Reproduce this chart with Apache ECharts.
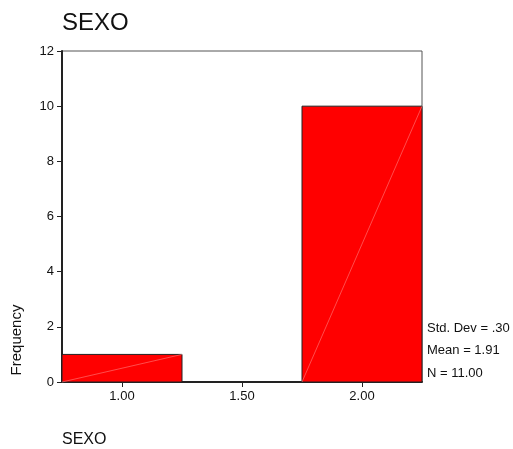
<!DOCTYPE html>
<html><head><meta charset="utf-8">
<script src="https://cdn.jsdelivr.net/npm/echarts@6/dist/echarts.min.js"></script>
<style>html,body{margin:0;padding:0;background:#fff}#c{width:513px;height:449px}</style>
</head><body><div id="c"></div>
<script>
const binStarts = [0.75, 1.75];
const binEnds = [1.25, 2.25];
const counts = [1, 10];
const xTicks = [1.0, 1.5, 2.0];
const statsLines = ['Std. Dev = .30', 'Mean = 1.91', 'N = 11.00'];
const titleText = 'SEXO';

const data = binStarts.map((s, i) => [s, binEnds[i], counts[i]]);
const chart = echarts.init(document.getElementById('c'));
const font = 'Liberation Sans, Arial, sans-serif';
chart.setOption({
  animation: false,
  grid: {left: 62, right: 91, top: 51, bottom: 67},
  xAxis: {
    type: 'value', min: 0.75, max: 2.25,
    splitLine: {show: false},
    axisLine: {show: true, lineStyle: {color: '#222', width: 2}},
    axisTick: {show: true, customValues: xTicks, length: 5, lineStyle: {color: '#222'}},
    axisLabel: {customValues: xTicks, formatter: v => v.toFixed(2), color: '#111', fontFamily: font, fontSize: 13, margin: 8}
  },
  yAxis: {
    type: 'value', min: 0, max: 12, interval: 2,
    splitLine: {show: false},
    axisLine: {show: true, lineStyle: {color: '#222', width: 2}},
    axisTick: {show: true, length: 5, lineStyle: {color: '#222'}},
    axisLabel: {color: '#111', fontFamily: font, fontSize: 13, margin: 8}
  },
  series: [{
    type: 'custom',
    data: data,
    encode: {x: [0, 1], y: 2},
    renderItem: function (params, api) {
      const p0 = api.coord([api.value(0), 0]);
      const p1 = api.coord([api.value(1), api.value(2)]);
      return {
        type: 'group',
        children: [
          {type: 'rect', shape: {x: p0[0], y: p1[1], width: p1[0] - p0[0], height: p0[1] - p1[1]},
           style: {fill: '#ff0000', stroke: '#222', lineWidth: 1}},
          {type: 'line', shape: {x1: p0[0], y1: p0[1], x2: p1[0], y2: p1[1]},
           style: {stroke: '#ff8080', lineWidth: 0.6}}
        ]
      };
    }
  }],
  graphic: [
    {type: 'rect', shape: {x: 62, y: 51, width: 360, height: 331}, style: {fill: 'none', stroke: '#555', lineWidth: 1}, z: -1},
    {type: 'text', left: 62, top: 11, style: {text: titleText, font: '24px ' + font, fill: '#111'}},
    {type: 'text', x: 17, y: 340, rotation: Math.PI / 2, style: {text: 'Frequency', font: '15px ' + font, fill: '#111', align: 'center', verticalAlign: 'middle'}},
    {type: 'text', left: 62, top: 432, style: {text: 'SEXO', font: '16px ' + font, fill: '#111'}},
    {type: 'text', left: 427, top: 317, style: {text: statsLines.join('\n'), font: '13px ' + font, fill: '#111', lineHeight: 22.5}}
  ]
});
</script></body></html>
